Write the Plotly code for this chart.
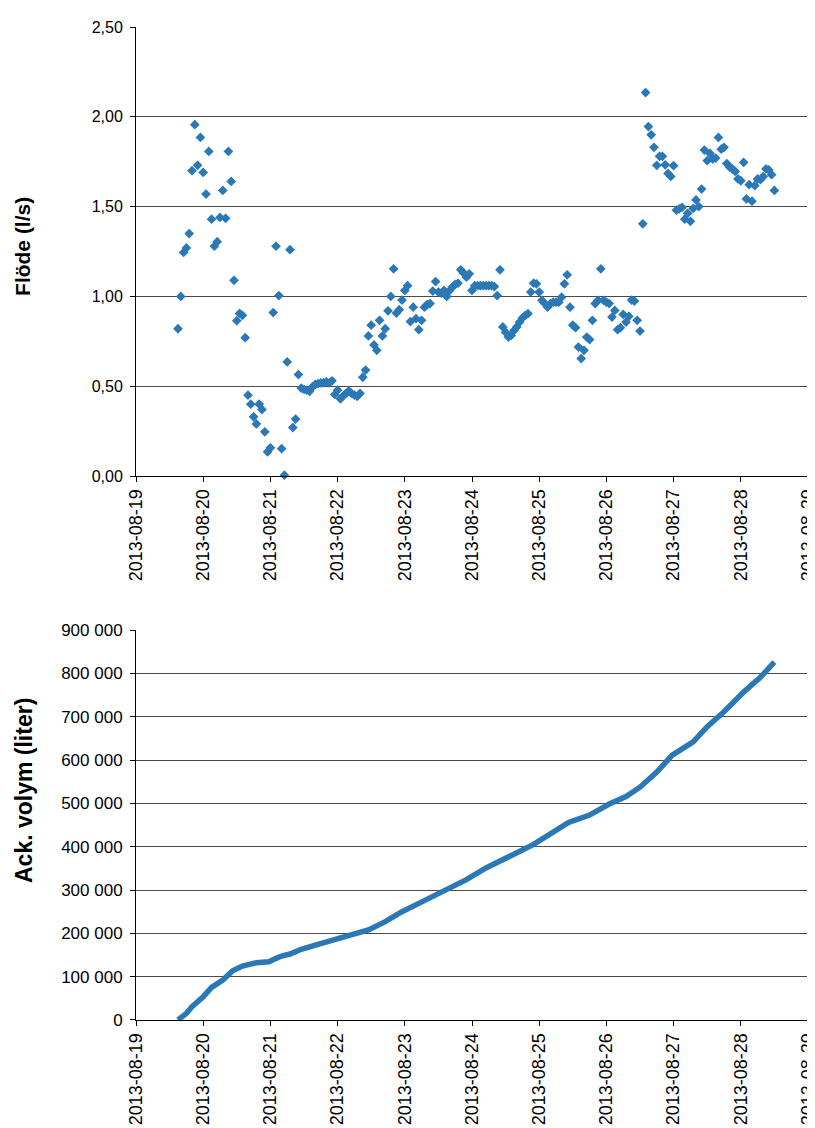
import pandas as pd
import plotly.graph_objects as go

# ---------------- data ----------------
flow_start = "2013-08-19 15:00"   # hourly readings
flow_0819 = [0.82, 1.00, 1.245, 1.27, 1.35, 1.70, 1.956, 1.73, 1.885]
flow_0820 = [1.69, 1.57, 1.807, 1.43, 1.28, 1.305, 1.44, 1.59, 1.435, 1.807, 1.64, 1.09,
             0.865, 0.905, 0.895, 0.77, 0.45, 0.40, 0.33, 0.29, 0.40, 0.37, 0.246, 0.135]
flow_0821 = [0.157, 0.91, 1.28, 1.005, 0.152, 0.005, 0.635, 1.26, 0.27, 0.317, 0.565, 0.49,
             0.483, 0.478, 0.472, 0.496, 0.51, 0.515, 0.518, 0.52, 0.524, 0.518, 0.53, 0.454]
flow_0822 = [0.478, 0.43, 0.446, 0.46, 0.474, 0.46, 0.45, 0.444, 0.46, 0.55, 0.59, 0.78,
             0.84, 0.73, 0.70, 0.867, 0.78, 0.82, 0.92, 1.00, 1.154, 0.907, 0.926, 0.98]
flow_0823 = [1.033, 1.06, 0.86, 0.94, 0.876, 0.815, 0.867, 0.94, 0.954, 0.96, 1.03, 1.083,
             1.024, 1.018, 1.033, 1.0, 1.033, 1.052, 1.067, 1.074, 1.148, 1.13, 1.107, 1.126]
flow_0824 = [1.033, 1.06, 1.06, 1.06, 1.06, 1.06, 1.06, 1.06, 1.055, 1.005, 1.148, 0.83,
             0.80, 0.774, 0.783, 0.81, 0.83, 0.857, 0.88, 0.894, 0.904, 1.024, 1.074, 1.07]
flow_0825 = [1.024, 0.978, 0.96, 0.94, 0.96, 0.968, 0.968, 0.968, 0.996, 1.07, 1.12, 0.94,
             0.84, 0.826, 0.718, 0.654, 0.70, 0.774, 0.76, 0.867, 0.96, 0.978, 1.154, 0.978]
flow_0826 = [0.968, 0.96, 0.885, 0.922, 0.815, 0.826, 0.9, 0.857, 0.889, 0.98, 0.974, 0.867,
             0.807, 1.404, 2.135, 1.946, 1.9, 1.83, 1.73, 1.78, 1.78, 1.733, 1.685, 1.668]
flow_0827 = [1.728, 1.48, 1.487, 1.496, 1.43, 1.463, 1.418, 1.49, 1.537, 1.5, 1.598, 1.815,
             1.756, 1.796, 1.765, 1.77, 1.885, 1.82, 1.83, 1.74, 1.72, 1.71, 1.696, 1.654]
flow_0828 = [1.644, 1.746, 1.543, 1.622, 1.53, 1.617, 1.654, 1.65, 1.667, 1.71, 1.704, 1.678, 1.59]

vol_times = ["2013-08-19 15:00", "2013-08-19 18:00", "2013-08-19 20:00", "2013-08-20 00:00",
             "2013-08-20 03:00", "2013-08-20 07:00", "2013-08-20 10:30", "2013-08-20 14:00",
             "2013-08-20 19:00", "2013-08-20 23:30", "2013-08-21 02:00", "2013-08-21 04:00",
             "2013-08-21 07:00", "2013-08-21 11:00", "2013-08-21 17:00", "2013-08-21 23:00",
             "2013-08-22 06:00", "2013-08-22 11:00", "2013-08-22 17:00", "2013-08-22 23:00",
             "2013-08-23 05:00", "2013-08-23 14:00", "2013-08-23 22:00", "2013-08-24 05:00",
             "2013-08-24 11:00", "2013-08-24 16:00", "2013-08-24 22:00", "2013-08-25 03:00",
             "2013-08-25 10:30", "2013-08-25 18:00", "2013-08-26 01:00", "2013-08-26 07:00",
             "2013-08-26 12:00", "2013-08-26 18:00", "2013-08-26 23:30", "2013-08-27 07:00",
             "2013-08-27 12:00", "2013-08-27 18:00", "2013-08-28 01:00", "2013-08-28 07:00",
             "2013-08-28 12:00"]
vol_liter = [0, 15400, 30800, 53800, 75400, 92300, 113800, 124600, 132300, 134600,
             142300, 147700, 152300, 163100, 174600, 186200, 197700, 207700, 226900, 250000,
             269200, 296600, 323800, 351000, 372000, 385900, 405300, 424700, 455800, 472900,
             498500, 515600, 537300, 572300, 611100, 642200, 676900, 711400, 756800, 791000,
             826200]

x_range = ["2013-08-19", "2013-08-29"]
y1_title = "Flöde (l/s)"
y2_title = "Ack. volym (liter)"

# ---------------- figure ----------------
flow = (flow_0819 + flow_0820 + flow_0821 + flow_0822 + flow_0823 + flow_0824
        + flow_0825 + flow_0826 + flow_0827 + flow_0828)
flow_times = pd.date_range(flow_start, periods=len(flow), freq="h")

BLUE = "#2a79b6"
GRID = "#4a4a4a"
FONT = "Liberation Sans, Arial, sans-serif"

fig = go.Figure()
fig.add_trace(go.Scatter(x=flow_times, y=flow, mode="markers",
                         marker=dict(symbol="diamond", size=7.5, color=BLUE),
                         xaxis="x", yaxis="y", showlegend=False, cliponaxis=False))
fig.add_trace(go.Scatter(x=pd.to_datetime(vol_times), y=vol_liter, mode="lines",
                         line=dict(color=BLUE, width=5.5),
                         xaxis="x2", yaxis="y2", showlegend=False))

xcommon = dict(range=x_range, type="date", dtick=86400000, tick0="2013-08-19",
               tickformat="%Y-%m-%d", tickangle=-90, showgrid=False,
               showline=True, linecolor="black", linewidth=1,
               ticks="outside", ticklen=5, tickcolor="black", automargin=False,
               tickfont=dict(family=FONT, size=18, color="black"), zeroline=False)
ycommon = dict(showgrid=True, gridcolor=GRID, gridwidth=1, showline=True,
               linecolor="black", linewidth=1, ticks="outside", ticklen=5,
               tickcolor="black", zeroline=False, automargin=False,
               ticklabelstandoff=4)

# the page body adds an 8 px offset, so margins are shifted accordingly
fig.update_layout(
    width=815, height=1128,
    margin=dict(l=128, r=15, t=19, b=116),
    paper_bgcolor="white", plot_bgcolor="white",
    separators=", ",
    xaxis=dict(domain=[0, 1], anchor="y", **xcommon),
    xaxis2=dict(domain=[0, 1], anchor="y2", **xcommon),
    yaxis=dict(domain=[0.5478, 1], anchor="x", range=[0, 2.5], dtick=0.5,
               tickformat=".2f", tickfont=dict(family=FONT, size=16, color="black"),
               **ycommon),
    yaxis2=dict(domain=[0, 0.3927], anchor="x2", range=[0, 900000], dtick=100000,
                tickformat=",d", tickfont=dict(family=FONT, size=17, color="black"),
                **ycommon),
    annotations=[
        dict(text="<b>%s</b>" % y1_title, xref="paper", yref="paper", x=0, y=0.7785,
             xshift=-113, textangle=-90, showarrow=False, xanchor="center", yanchor="middle",
             font=dict(family=FONT, size=21, color="black")),
        dict(text="<b>%s</b>" % y2_title, xref="paper", yref="paper", x=0, y=0.2306,
             xshift=-112, textangle=-90, showarrow=False, xanchor="center", yanchor="middle",
             font=dict(family=FONT, size=23, color="black")),
    ],
)

fig.write_html("out.html")
